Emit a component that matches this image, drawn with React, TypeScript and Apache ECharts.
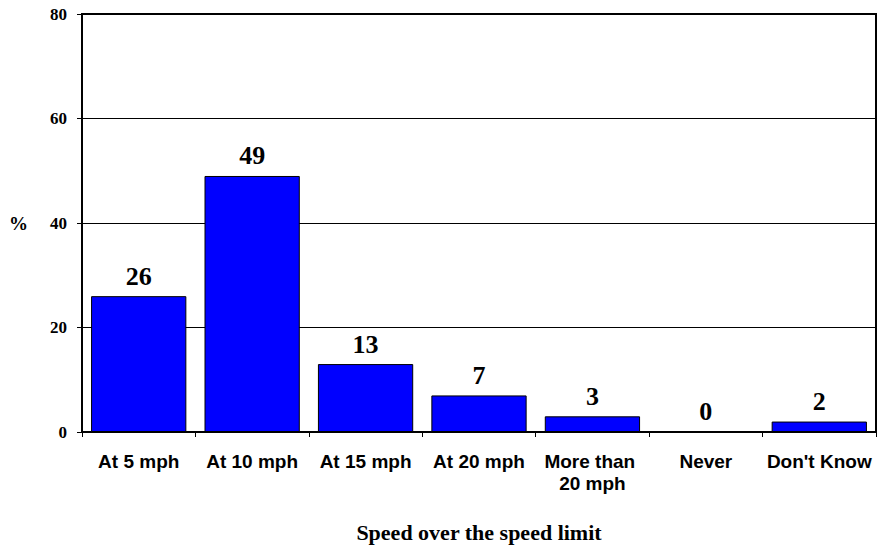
import React, { useEffect, useRef } from "react";
import * as echarts from "echarts";

const categories = ["At 5 mph", "At 10 mph", "At 15 mph", "At 20 mph", "More than 20 mph", "Never", "Don't Know"];
const values = [26, 49, 13, 7, 3, 0, 2];
const yTicks = { min: 0, max: 80, interval: 20 };
const xTitle = "Speed over the speed limit";
const yTitle = "%";

const SERIF = "'Liberation Serif', 'Times New Roman', serif";
const SANS = "'Liberation Sans', Arial, sans-serif";

export default function App() {
  const ref = useRef<HTMLDivElement>(null);
  useEffect(() => {
    if (!ref.current) return;
    const chart = echarts.init(ref.current, undefined, { renderer: "svg" });
    chart.setOption({
      animation: false,
      backgroundColor: "#ffffff",
      grid: {
        left: 82,
        right: 3,
        top: 14,
        bottom: 116,
        show: true,
        borderColor: "#000",
        borderWidth: 2,
        backgroundColor: "transparent",
      },
      xAxis: {
        type: "category",
        data: categories,
        name: xTitle,
        nameLocation: "middle",
        nameGap: 89,
        nameTextStyle: { fontFamily: SERIF, fontWeight: "bold", fontSize: 22, color: "#000" },
        axisLine: { show: true, lineStyle: { color: "#000", width: 2 } },
        axisTick: { show: true, length: 5, alignWithLabel: false, lineStyle: { color: "#000", width: 1 } },
        axisLabel: {
          interval: 0,
          margin: 18,
          fontFamily: SANS,
          fontWeight: "bold",
          fontSize: 19,
          lineHeight: 22,
          color: "#000",
          width: 110,
          overflow: "break",
        },
        splitLine: { show: false },
      },
      yAxis: {
        type: "value",
        min: yTicks.min,
        max: yTicks.max,
        interval: yTicks.interval,
        name: yTitle,
        nameLocation: "middle",
        nameRotate: 0,
        nameGap: 54,
        nameTextStyle: { fontFamily: SERIF, fontWeight: "bold", fontSize: 19, color: "#000" },
        axisLine: { show: true, lineStyle: { color: "#000", width: 2 } },
        axisTick: { show: true, length: 5, lineStyle: { color: "#000", width: 1 } },
        axisLabel: { margin: 15, fontFamily: SERIF, fontWeight: "bold", fontSize: 17, color: "#000" },
        splitLine: { show: true, lineStyle: { color: "#000", width: 1 } },
      },
      series: [
        {
          type: "bar",
          data: values,
          barWidth: "84%",
          itemStyle: { color: "#0000FF", borderColor: "#000", borderWidth: 1 },
          label: {
            show: true,
            position: "top",
            distance: 7,
            fontFamily: SERIF,
            fontWeight: "bold",
            fontSize: 26,
            color: "#000",
          },
        },
      ],
    });
    return () => chart.dispose();
  }, []);
  return <div ref={ref} style={{ width: 879, height: 548, position: "absolute", left: 0, top: 0 }} />;
}
